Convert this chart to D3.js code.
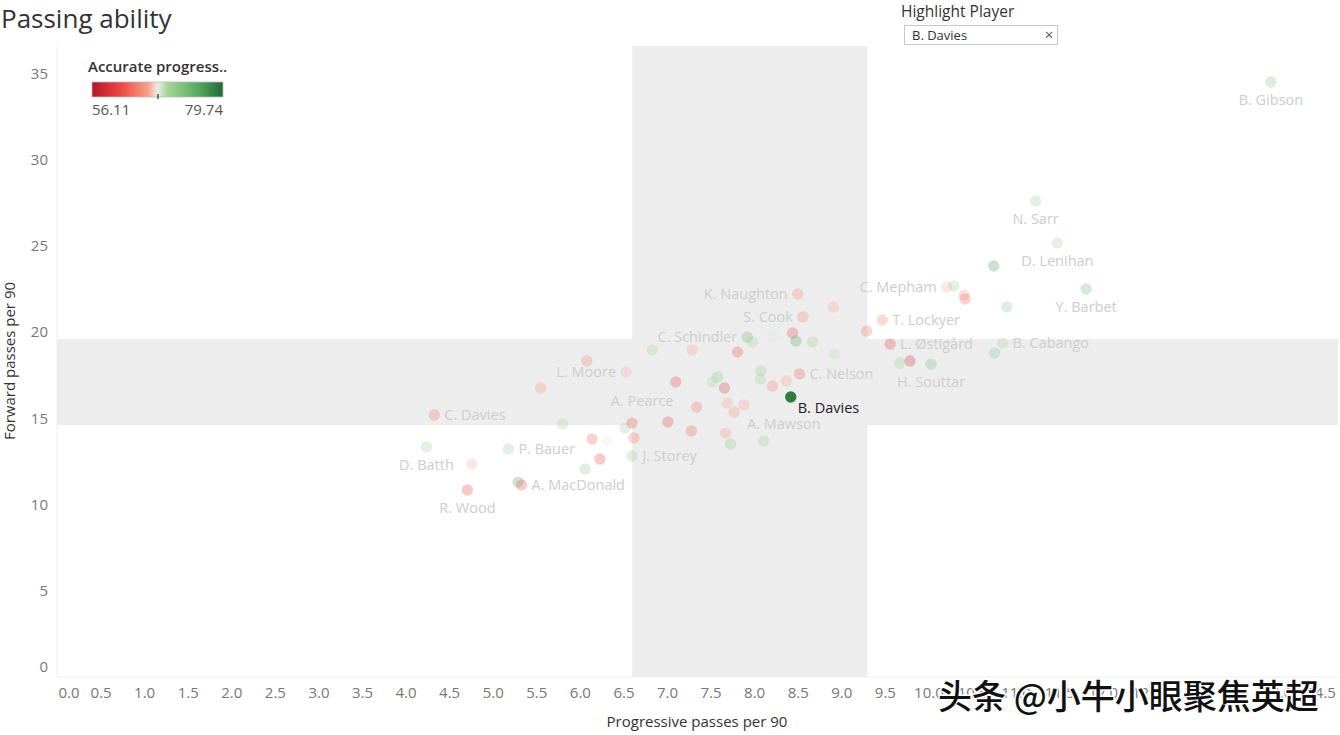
<!DOCTYPE html>
<html>
<head>
<meta charset="utf-8">
<script src="https://cdn.jsdelivr.net/npm/d3@7"></script>
<style>
  html, body { margin: 0; padding: 0; background: #fff; }
  svg { display: block; }
  text { font-family: "Open Sans", "Noto Sans", sans-serif; }
</style>
</head>
<body>
<svg id="chart" width="1340" height="735"></svg>
<script>
// ---------------- DATA ----------------
const players = ["B. Gibson","N. Sarr","D. Lenihan","","Y. Barbet","C. Mepham","","","","",
  "T. Lockyer","","L. Østigård","B. Cabango","","","","H. Souttar","K. Naughton","",
  "S. Cook","","","","","C. Schindler","","","","",
  "","","","","","","","C. Nelson","","",
  "B. Davies","","","","","","","","","A. Mawson",
  "J. Storey","A. Pearce","","","","","","","","L. Moore",
  "","C. Davies","","D. Batth","P. Bauer","","R. Wood","","A. MacDonald"];
const progressivePasses = [13.93,11.23,11.48,10.75,11.81,10.21,10.29,10.41,10.42,10.90,
  9.47,9.29,9.56,10.85,10.76,9.67,9.79,10.03,8.50,8.91,
  8.56,8.44,8.48,8.67,8.92,7.92,7.98,8.21,6.83,7.29,
  7.81,7.10,7.58,7.52,7.66,8.08,8.07,8.52,8.37,8.21,
  8.42,7.34,7.69,7.88,7.77,7.01,7.28,7.67,7.73,8.11,
  6.60,6.60,6.52,6.62,6.14,6.31,6.23,6.06,6.08,6.53,
  5.55,4.33,5.80,4.24,5.18,4.76,4.71,5.29,5.33];
const forwardPasses = [34.49,27.59,25.16,23.83,22.49,22.61,22.67,22.14,21.91,21.45,
  20.70,20.06,19.30,19.36,18.78,18.20,18.32,18.14,22.20,21.45,
  20.87,19.94,19.48,19.42,18.72,19.71,19.42,19.71,18.96,18.96,
  18.84,17.10,17.39,17.10,16.75,17.74,17.28,17.57,17.16,16.87,
  16.23,15.65,15.88,15.77,15.36,14.78,14.26,14.14,13.51,13.68,
  12.81,14.72,14.43,13.86,13.80,13.68,12.64,12.06,18.32,17.68,
  16.75,15.19,14.67,13.33,13.22,12.35,10.84,11.30,11.13];
const accuracy = [72.5,71,71,77,74.5,66.5,71,65.5,62,72,
  64,63,60,70,72,71,58,73,64.5,66,
  64,61,76,71,69.5,74,70,68.5,70,66,
  61,60,72,70,59.5,71,70,62,66,64,
  78.5,63,66,66,65,60,62,65,72,71,
  71,61,71,63,62,68,60,72,64,66.5,
  65,63,70,71,71,66.5,60,76,61];
const highlighted = "B. Davies";
const labelPlacement = {
  "B. Gibson":"below","N. Sarr":"below","D. Lenihan":"below","Y. Barbet":"below",
  "C. Mepham":"left","T. Lockyer":"right","L. Østigård":"right","B. Cabango":"right",
  "H. Souttar":"below","K. Naughton":"left","S. Cook":"left","C. Schindler":"left",
  "C. Nelson":"right","B. Davies":"belowright","A. Mawson":"aboveright","J. Storey":"right",
  "L. Moore":"left","A. Pearce":"above","C. Davies":"right","D. Batth":"below",
  "P. Bauer":"right","R. Wood":"below","A. MacDonald":"right"
};
const xTickValues = [0,0.5,1,1.5,2,2.5,3,3.5,4,4.5,5,5.5,6,6.5,7,7.5,8,8.5,9,9.5,10,10.5,11,11.5,12,12.5,13,13.5,14,14.5];
const yTickValues = [0,5,10,15,20,25,30,35];
const bandX = [6.6, 9.3];    // avg-band on progressive passes
const bandY = [14.6, 19.6];  // avg-band on forward passes
const accRange = [56.11, 79.74];

// ---------------- CHART ----------------
const svg = d3.select("#chart");
const L = 57, R = 1338, T = 46, B = 677;
const x = d3.scaleLinear().domain([0, 14.7]).range([L, R]);
const y = d3.scaleLinear().domain([0, 36.58]).range([B, T]);

const mid = (accRange[0] + accRange[1]) / 2;
const colorStops = ["#b5122f", "#ee4a43", "#f7a08c", "#e9ece6", "#a6d798", "#5aab62", "#1d6b36"];
const color = d3.scaleLinear()
  .domain([accRange[0], accRange[0] + (mid-accRange[0])*0.45, accRange[0] + (mid-accRange[0])*0.85, mid,
           mid + (accRange[1]-mid)*0.15, mid + (accRange[1]-mid)*0.6, accRange[1]])
  .range(colorStops).interpolate(d3.interpolateRgb).clamp(true);

// bands
svg.append("rect").attr("x", x(bandX[0])).attr("y", T)
  .attr("width", x(bandX[1]) - x(bandX[0])).attr("height", B - T).attr("fill", "#ededed");
svg.append("rect").attr("x", L).attr("y", y(bandY[1]))
  .attr("width", R - L).attr("height", y(bandY[0]) - y(bandY[1])).attr("fill", "#ededed");

// axes lines
svg.append("line").attr("x1", L).attr("x2", L).attr("y1", T).attr("y2", B).attr("stroke", "#eeeeee");
svg.append("line").attr("x1", L).attr("x2", R).attr("y1", B).attr("y2", B).attr("stroke", "#eeeeee");

// x axis
const xAxis = d3.axisBottom(x).tickValues(xTickValues).tickSize(0).tickPadding(10)
  .tickFormat(d3.format(".1f"));
const gx = svg.append("g").attr("transform", `translate(0,${B})`).call(xAxis);
gx.select(".domain").remove();
gx.selectAll("text").attr("fill", "#777").style("font-size", "15px");
gx.selectAll(".tick").filter(d => d === 0).select("text").attr("text-anchor", "start").attr("dx", 1);

// y axis
const yAxis = d3.axisLeft(y).tickValues(yTickValues).tickSize(0).tickPadding(9);
const gy = svg.append("g").attr("transform", `translate(${L},0)`).call(yAxis);
gy.select(".domain").remove();
gy.selectAll("text").attr("fill", "#777").style("font-size", "15px");
gy.selectAll(".tick").filter(d => d === 0).select("text").attr("dy", "-0.4em");

// axis titles
svg.append("text").attr("x", 697).attr("y", 727).attr("text-anchor", "middle")
  .attr("fill", "#333").style("font-size", "15px").text("Progressive passes per 90");
svg.append("text").attr("transform", `translate(15,${361}) rotate(-90)`)
  .attr("text-anchor", "middle").attr("fill", "#333").style("font-size", "15px")
  .text("Forward passes per 90");

// points
const data = players.map((p, i) => ({ name: p, px: progressivePasses[i], fy: forwardPasses[i], acc: accuracy[i] }));
const ordered = data.filter(d => d.name !== highlighted).concat(data.filter(d => d.name === highlighted));
svg.append("g").selectAll("circle").data(ordered).join("circle")
  .attr("cx", d => x(d.px)).attr("cy", d => y(d.fy)).attr("r", 5.7)
  .attr("fill", d => color(d.acc))
  .attr("fill-opacity", d => d.name === highlighted ? 1 : 0.27);

// labels
const place = {
  right: { dx: 10, dy: 0, anchor: "start" },
  left: { dx: -10, dy: 0, anchor: "end" },
  below: { dx: 0, dy: 18, anchor: "middle" },
  above: { dx: 10, dy: -22, anchor: "middle" },
  belowright: { dx: 7, dy: 11, anchor: "start" },
  aboveright: { dx: 20, dy: -17, anchor: "middle" }
};
svg.append("g").selectAll("text").data(data.filter(d => d.name)).join("text")
  .attr("x", d => x(d.px) + place[labelPlacement[d.name]].dx)
  .attr("y", d => y(d.fy) + place[labelPlacement[d.name]].dy)
  .attr("dy", "0.35em")
  .attr("text-anchor", d => place[labelPlacement[d.name]].anchor)
  .attr("fill", d => d.name === highlighted ? "#222" : "#cdcdcd")
  .style("font-size", "14.5px")
  .text(d => d.name);

// title
svg.append("text").attr("x", 1).attr("y", 28).attr("fill", "#333")
  .style("font-size", "26px").text("Passing ability");

// legend
const lg = svg.append("g");
lg.append("text").attr("x", 88).attr("y", 72).attr("fill", "#333")
  .style("font-size", "15px").style("font-weight", "600").text("Accurate progress..");
const defs = svg.append("defs");
const grad = defs.append("linearGradient").attr("id", "accGrad");
color.domain().forEach((v, i) => {
  grad.append("stop").attr("offset", ((v - accRange[0]) / (accRange[1] - accRange[0]) * 100) + "%")
    .attr("stop-color", colorStops[i]);
});
lg.append("rect").attr("x", 92).attr("y", 82).attr("width", 131).attr("height", 15)
  .attr("fill", "url(#accGrad)").attr("stroke", "#bbb").attr("stroke-width", 0.8);
lg.append("line").attr("x1", 158).attr("x2", 158).attr("y1", 94).attr("y2", 99).attr("stroke", "#000");
lg.append("text").attr("x", 92).attr("y", 115).attr("fill", "#555").style("font-size", "15px").text(accRange[0].toFixed(2));
lg.append("text").attr("x", 223).attr("y", 115).attr("text-anchor", "end").attr("fill", "#555").style("font-size", "15px").text(accRange[1].toFixed(2));

// highlight player control
svg.append("text").attr("x", 901).attr("y", 17).attr("fill", "#333").style("font-size", "15.5px").text("Highlight Player");
svg.append("rect").attr("x", 904.5).attr("y", 25.5).attr("width", 153).attr("height", 19)
  .attr("fill", "#fff").attr("stroke", "#c8c8c8");
svg.append("text").attr("x", 912).attr("y", 39.5).attr("fill", "#333").style("font-size", "13px").text(highlighted);
svg.append("text").attr("x", 1049).attr("y", 40).attr("text-anchor", "middle").attr("fill", "#555").style("font-size", "15px").text("×");

// watermark
svg.append("text").attr("x", 938).attr("y", 709)
  .style("font-family", "'Noto Sans CJK SC', sans-serif").style("font-size", "34px").style("font-weight", "500")
  .attr("fill", "#111").attr("stroke", "#fff").attr("stroke-width", 3).attr("paint-order", "stroke")
  .text("头条 @小牛小眼聚焦英超");
</script>
</body>
</html>
